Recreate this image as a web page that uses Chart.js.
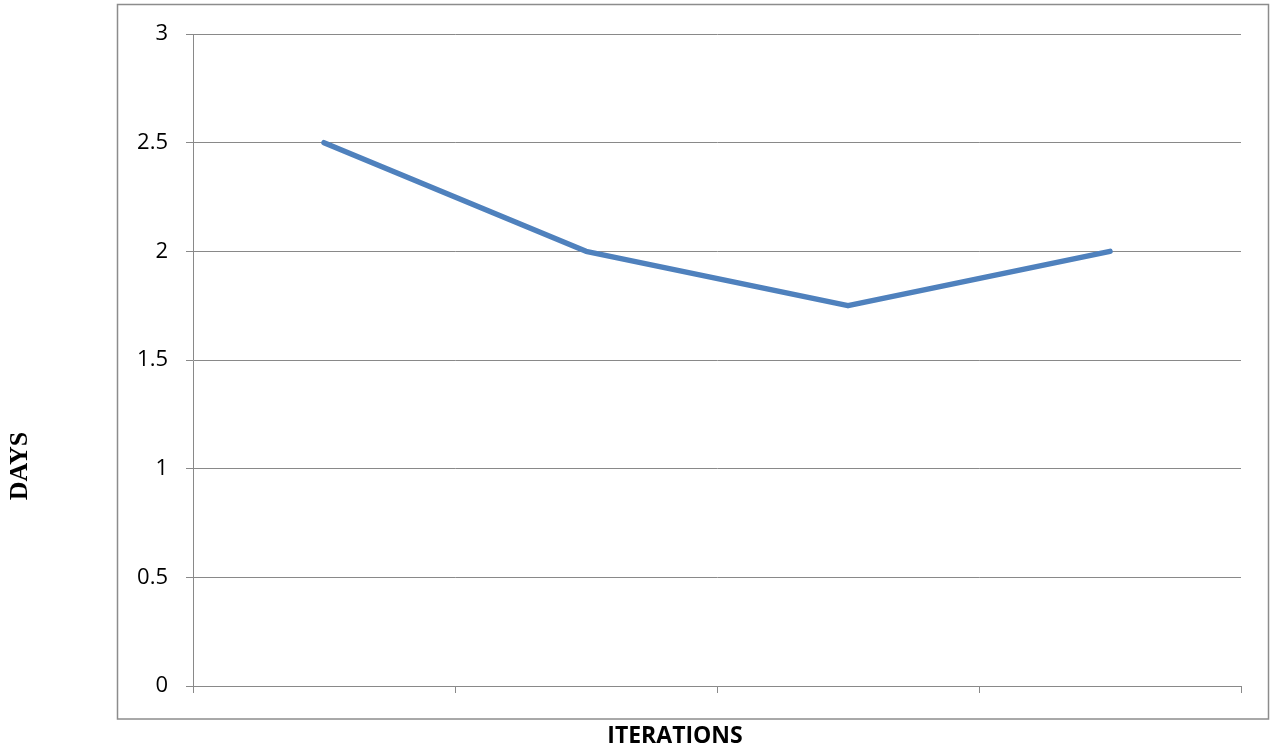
<!DOCTYPE html>
<html>
<head>
<meta charset="utf-8">
<script src="https://cdn.jsdelivr.net/npm/chart.js@4/dist/chart.umd.min.js"></script>
<style>
  html, body { margin: 0; padding: 0; background: #ffffff; }
  #wrap { width: 1270px; height: 751px; position: relative; }
</style>
</head>
<body>
<div id="wrap"><canvas id="chart" width="1270" height="751"></canvas></div>
<script>
// Iterations and the days each one took
const iterations = ['1', '2', '3', '4'];
const days = [2.5, 2, 1.75, 2];
const yTicks = [0, 0.5, 1, 1.5, 2, 2.5, 3];

const GRID = '#898989';

// Frame around the whole chart plus the two axis titles
const framePlugin = {
  id: 'frame',
  afterDraw(chart) {
    const ctx = chart.ctx;
    ctx.save();
    ctx.strokeStyle = '#8c8c8c';
    ctx.lineWidth = 1.5;
    ctx.strokeRect(117.5, 4.5, 1151, 714.5);

    ctx.fillStyle = '#000000';
    ctx.font = 'bold 23px "Open Sans"';
    ctx.textAlign = 'center';
    ctx.textBaseline = 'middle';
    ctx.fillText('ITERATIONS', 675, 736);

    ctx.translate(19, 466);
    ctx.rotate(-Math.PI / 2);
    ctx.font = 'bold 26px "Liberation Serif"';
    ctx.fillText('DAYS', 0, 1);
    ctx.restore();
  }
};

new Chart(document.getElementById('chart'), {
  type: 'line',
  data: {
    labels: iterations,
    datasets: [{
      data: days,
      borderColor: '#4F81BD',
      borderWidth: 5.5,
      borderCapStyle: 'round',
      borderJoinStyle: 'round',
      pointRadius: 0,
      tension: 0,
      fill: false
    }]
  },
  options: {
    responsive: false,
    animation: false,
    layout: { padding: { left: 118, top: 34, right: 29, bottom: 58 } },
    plugins: { legend: { display: false }, tooltip: { enabled: false } },
    scales: {
      x: {
        offset: true,
        grid: {
          offset: true,
          drawOnChartArea: false,
          drawTicks: true,
          tickLength: 7,
          color: GRID,
          lineWidth: 1
        },
        border: { color: GRID, width: 1 },
        ticks: { display: false },
        afterFit(scale) { scale.height = 7; }
      },
      y: {
        min: 0,
        max: 3,
        afterBuildTicks(scale) { scale.ticks = yTicks.map(v => ({ value: v })); },
        grid: {
          color: GRID,
          lineWidth: 1,
          drawTicks: true,
          tickLength: 7
        },
        border: { color: GRID, width: 1 },
        ticks: {
          color: '#000000',
          padding: 18,
          font: { family: '"Open Sans"', size: 22 },
          callback: v => String(v)
        },
        afterFit(scale) { scale.width = 75; }
      }
    }
  },
  plugins: [framePlugin]
});
</script>
</body>
</html>
